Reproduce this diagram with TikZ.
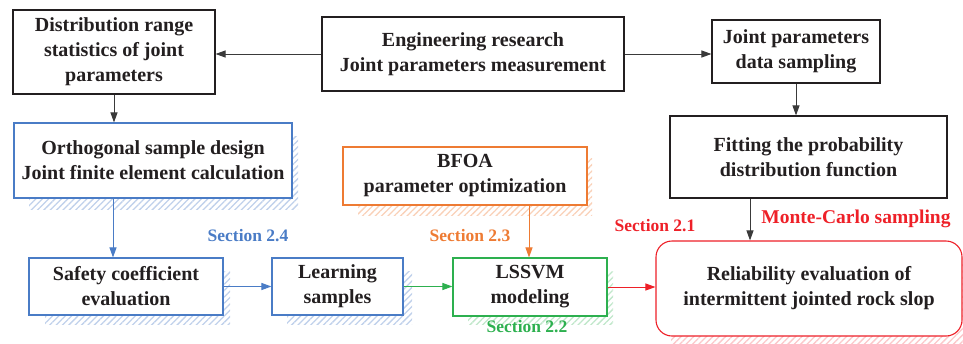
\documentclass[tikz,border=0pt]{standalone}
\usepackage{fontspec}
\setmainfont{Liberation Serif}
\usetikzlibrary{arrows.meta,patterns.meta,calc}
\definecolor{ink}{HTML}{231F20}
\definecolor{cblue}{HTML}{4A7CC6}
\definecolor{corange}{HTML}{EE7B33}
\definecolor{cgreen}{HTML}{2DB04F}
\definecolor{cred}{HTML}{EE2028}
\definecolor{cgray}{HTML}{3A3A3A}
\tikzset{
  box/.style={draw=#1, line width=1.1pt, fill=white, inner sep=0pt, align=center,
    text=ink, font=\fontsize{20}{25}\selectfont\bfseries},
  shade/.style={pattern={Lines[angle=45,distance=4.5pt,line width=1.3pt]}, pattern color=#1},
  arr/.style={draw=#1, line width=1pt, -{Triangle[length=10pt,width=7pt]}},
  sec/.style={text=#1, font=\fontsize{17.5}{20}\selectfont\bfseries, inner sep=0pt}
}
\begin{document}
\begin{tikzpicture}[x=1pt,y=-1pt]
\useasboundingbox (0,0) rectangle (963,343);
% shadows
\fill[shade=cblue!35] (29,136) rectangle (298,209);
\fill[shade=cblue!35] (45,271) rectangle (230,324);
\fill[shade=cblue!35] (287,271) rectangle (412,324);
\fill[shade=cgreen!30] (468,271) rectangle (613,324);
\fill[shade=corange!35] (358,158) rectangle (592,215);
\fill[shade=cred!25] (671,254) rectangle (963,343);
% boxes
\node[box=ink, minimum width=202pt, minimum height=84pt] (dist) at (114,52) {Distribution range\\statistics of joint\\parameters};
\node[box=ink, minimum width=302pt, minimum height=74pt] (eng) at (473,54) {Engineering research\\Joint parameters measurement};
\node[box=ink, minimum width=168pt, minimum height=63pt] (joint) at (796,51.5) {Joint parameters\\data sampling};
\node[box=ink, minimum width=277pt, minimum height=82pt] (fit) at (808.5,157) {Fitting the probability\\distribution function};
\node[box=cblue, minimum width=278pt, minimum height=75pt] (orth) at (153,160.5) {Orthogonal sample design\\Joint finite element calculation};
\node[box=corange, minimum width=244pt, minimum height=58pt] (bfoa) at (465,176) {BFOA\\parameter optimization};
\node[box=cblue, minimum width=194pt, minimum height=57pt] (safe) at (126,286.5) {Safety coefficient\\evaluation};
\node[box=cblue, minimum width=131pt, minimum height=57pt] (learn) at (337.5,286.5) {Learning\\samples};
\node[box=cgreen, minimum width=154pt, minimum height=58pt] (lssvm) at (530,287) {LSSVM\\modeling};
\node[box=cred, rounded corners=16pt, minimum width=306pt, minimum height=95pt] (rel) at (809,288.5) {Reliability evaluation of\\intermittent jointed rock slop};
% section labels
\node[sec=cblue] (s24) at (248,236) {Section 2.4};
\node[sec=corange] (s23) at (470,236) {Section 2.3};
\node[sec=cgreen] (s22) at (527,327) {Section 2.2};
\node[sec=cred] (s21) at (655,226) {Section 2.1};
\node[sec=cred, font=\fontsize{19.5}{22}\selectfont\bfseries] (mc) at (856,219) {Monte-Carlo sampling};
% connectors
\draw[arr=cgray] (eng.west) -- (eng.west -| dist.east);
\draw[arr=cgray] (eng.east) -- (eng.east -| joint.west);
\draw[arr=cgray] (dist.south) -- (dist.south |- orth.north);
\draw[arr=cgray] (joint.south) -- (joint.south |- fit.north);
\draw[arr=cgray] ([xshift=-58.5pt]fit.south) -- ([xshift=-58.5pt]fit.south |- rel.north);
\draw[arr=cblue] ([xshift=-40pt]orth.south) -- ([xshift=-40pt]orth.south |- safe.north);
\draw[arr=cblue] (safe.east) -- (safe.east -| learn.west);
\draw[arr=cgreen] (learn.east) -- (learn.east -| lssvm.west);
\draw[arr=cred] (lssvm.east) -- (lssvm.east -| rel.west);
\draw[arr=corange] ([xshift=-1pt]lssvm.north |- bfoa.south) -- ([xshift=-1pt]lssvm.north);
\end{tikzpicture}
\end{document}
